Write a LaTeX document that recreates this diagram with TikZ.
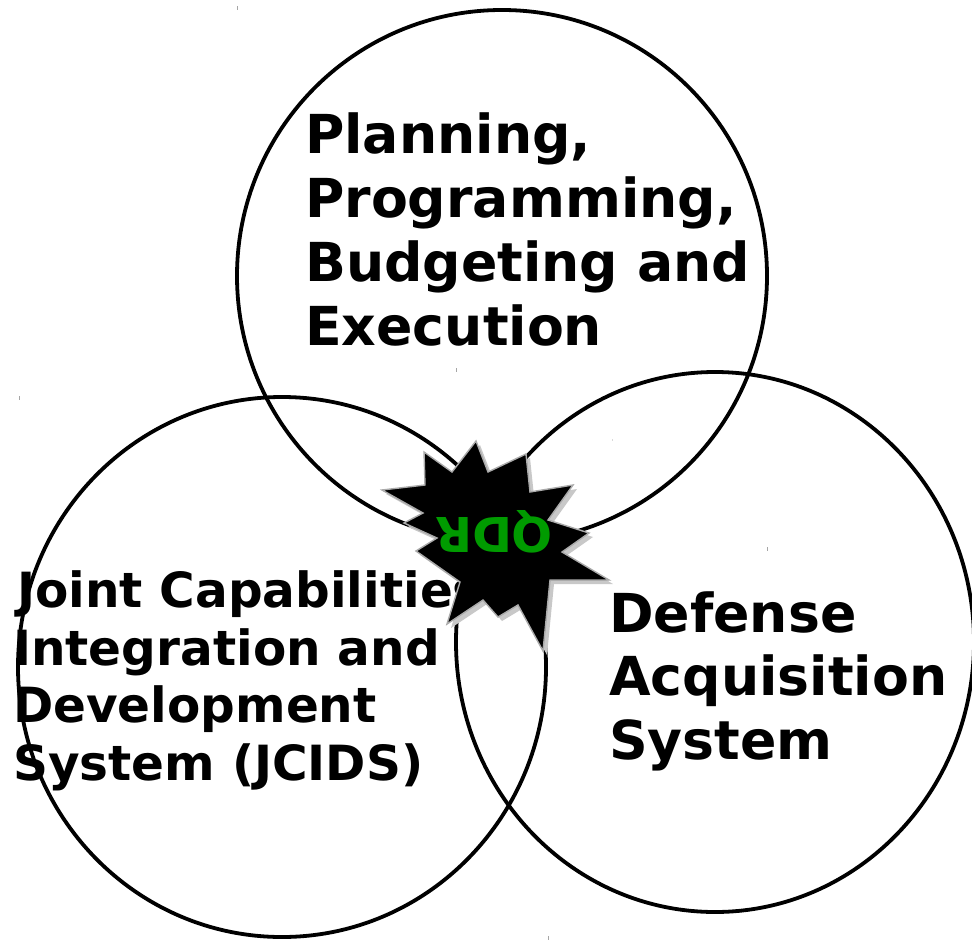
\documentclass[tikz,border=0pt]{standalone}
\usepackage{fontspec}
\setmainfont{DejaVu Sans}
\usetikzlibrary{shapes.geometric}
\definecolor{qdrgreen}{RGB}{0,155,0}
\definecolor{shadowgray}{RGB}{200,200,200}
\definecolor{edgegray}{RGB}{170,170,170}
\begin{document}
\begin{tikzpicture}[x=1pt,y=-1pt,
  ring/.style={ellipse, draw=black, line width=3.8pt, inner sep=0pt},
  biglbl/.style={inner sep=0pt, anchor=base west, font=\bfseries\fontsize{53.7}{64}\selectfont},
  midlbl/.style={inner sep=0pt, anchor=base west, font=\bfseries\fontsize{48.5}{58}\selectfont},
  speck/.style={draw=gray!70, line width=0.8pt}]
\useasboundingbox (0,0) rectangle (972,940);
\fill[white] (0,0) rectangle (972,940);

% circles
\node[ring, minimum width=530pt, minimum height=532pt] (ppbe) at (502,276) {};
\node[ring, minimum width=528pt, minimum height=540pt] (jcids) at (282,667) {};
\node[ring, minimum width=518pt, minimum height=540pt] (das) at (715,642) {};

% tiny specks
\draw[speck] (237,6) -- (237,10);
\draw[speck] (19,396) -- (19,400);
\draw[speck] (456,368) -- (456,372);
\draw[speck] (767,547) -- (767,551);
\draw[speck] (548,936) -- (548,940);
\draw[speck, draw=gray!30] (612,439) -- (612,441);

% texts
\node[biglbl] (p1) at (305,153) {Planning,};
\node[biglbl] (p2) at (305,217) {Programming,};
\node[biglbl] (p3) at (305,281) {Budgeting and};
\node[biglbl] (p4) at (305,345) {Execution};

\node[midlbl] (j1) at (17,607) {Joint Capabilities};
\node[midlbl] (j2) at (13,665) {Integration and};
\node[midlbl] (j3) at (13,722) {Development};
\node[midlbl] (j4) at (13,780) {System (JCIDS)};

\node[biglbl] (d1) at (609,632) {Defense};
\node[biglbl] (d2) at (609,695) {Acquisition};
\node[biglbl] (d3) at (609,759) {System};

% starburst
\def\starpath{(476,441) -- (488,472) -- (526,454) -- (530,492) -- (573,485) -- (548,520) -- (589,533) -- (562,552) -- (609,580) -- (550,580) -- (543,651) -- (518,605) -- (498,617) -- (483,600) -- (447,624) -- (460,582) -- (416,551) -- (437,538) -- (404,523) -- (423,513) -- (382,490) -- (425,485) -- (424,452) -- (452,472) -- cycle}
\fill[shadowgray, shift={(4,4)}] \starpath;
\filldraw[fill=black, draw=edgegray, line width=1.4pt, line join=miter] \starpath;

\node[rotate=180, inner sep=0pt, text=qdrgreen, font=\bfseries\fontsize{48}{56}\selectfont] (qdr) at (494,532) {QDR};
\end{tikzpicture}
\end{document}
